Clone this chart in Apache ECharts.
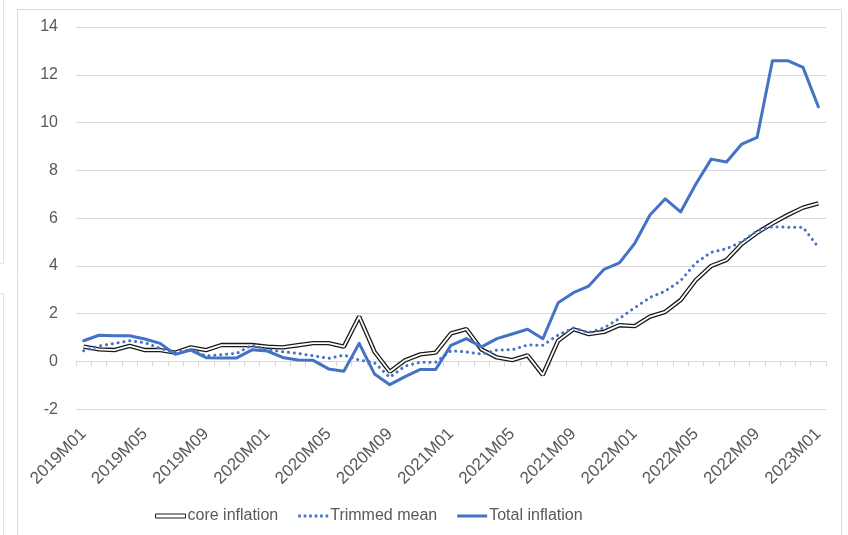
<!DOCTYPE html>
<html>
<head>
<meta charset="utf-8">
<script src="https://cdn.jsdelivr.net/npm/echarts@6/dist/echarts.min.js"></script>
<style>
  html, body { margin: 0; padding: 0; background: #ffffff; }
  #chart { width: 848px; height: 535px; }
</style>
</head>
<body>
<div id="chart"></div>
<script>
// Monthly periods 2019M01 .. 2023M01
const years = [2019, 2020, 2021, 2022, 2023];
const months = [];
years.forEach(function (y) {
  for (let m = 1; m <= 12; m++) {
    if (y === 2023 && m > 1) break;
    months.push(y + 'M' + (m < 10 ? '0' + m : m));
  }
});

// Inflation rates, %
const coreInflation = [
  0.62, 0.51, 0.48, 0.65, 0.48, 0.48, 0.37, 0.59, 0.48, 0.69, 0.69, 0.69,
  0.62, 0.59, 0.68, 0.77, 0.77, 0.62, 1.88, 0.41, -0.43, 0.05, 0.30, 0.37,
  1.18, 1.36, 0.50, 0.17, 0.06, 0.26, -0.56, 0.87, 1.35, 1.15, 1.24, 1.52,
  1.48, 1.88, 2.08, 2.57, 3.41, 4.00, 4.25, 4.92, 5.39, 5.78, 6.13, 6.44,
  6.62
];
const trimmedMean = [
  0.45, 0.65, 0.76, 0.87, 0.79, 0.55, 0.37, 0.50, 0.23, 0.29, 0.34, 0.69,
  0.50, 0.41, 0.34, 0.24, 0.13, 0.27, 0.06, -0.05, -0.66, -0.19, -0.03, -0.03,
  0.45, 0.40, 0.31, 0.48, 0.49, 0.69, 0.68, 1.11, 1.40, 1.21, 1.41, 1.80,
  2.25, 2.68, 2.95, 3.38, 4.13, 4.57, 4.72, 5.01, 5.47, 5.64, 5.62, 5.62,
  4.78
];
const totalInflation = [
  0.87, 1.10, 1.08, 1.08, 0.94, 0.76, 0.30, 0.48, 0.16, 0.15, 0.15, 0.49,
  0.44, 0.17, 0.06, 0.05, -0.31, -0.41, 0.76, -0.52, -0.97, -0.63, -0.33, -0.33,
  0.68, 0.96, 0.61, 0.96, 1.15, 1.35, 0.95, 2.46, 2.88, 3.16, 3.86, 4.13,
  4.94, 6.13, 6.81, 6.26, 7.43, 8.47, 8.35, 9.10, 9.38, 12.59, 12.59, 12.31,
  10.66
];

const BLUE = '#4472C4';
const GRID = '#d9d9d9';
const TEXT = '#595959';
const FONT = '"Liberation Sans", Arial, sans-serif';

const chart = echarts.init(document.getElementById('chart'), null, { renderer: 'canvas' });

chart.setOption({
  animation: false,
  backgroundColor: '#ffffff',
  grid: { left: 76, right: 22, top: 27, bottom: 125.7, containLabel: false },
  legend: {
    left: 150,
    top: 503,
    itemWidth: 30,
    itemHeight: 14,
    itemGap: 20,
    textStyle: { color: TEXT, fontSize: 16, fontFamily: FONT, padding: [0, 0, 0, -3] },
    data: [
      {
        name: 'core inflation',
        icon: 'path://M0,0H30V4H0Z',
        itemStyle: { color: '#ffffff', borderColor: '#1a1a1a', borderWidth: 1 }
      },
      {
        name: 'Trimmed mean',
        icon: 'path://M0,0h2.6v3h-2.6z M5.4,0h2.6v3h-2.6z M10.8,0h2.6v3h-2.6z M16.2,0h2.6v3h-2.6z M21.6,0h2.6v3h-2.6z M27,0h2.6v3h-2.6z',
        itemStyle: { color: BLUE, borderWidth: 0 }
      },
      {
        name: 'Total inflation',
        icon: 'path://M0,0H30V3H0Z',
        itemStyle: { color: BLUE, borderWidth: 0 }
      }
    ]
  },
  xAxis: [
    {
      // labels along the bottom edge
      type: 'category',
      data: months,
      position: 'bottom',
      boundaryGap: true,
      axisLine: { show: false, onZero: false },
      axisTick: { show: false },
      axisLabel: {
        interval: 3,
        rotate: 45,
        margin: 22,
        padding: [20, 0, 0, 0],
        color: TEXT,
        fontSize: 17,
        fontFamily: FONT
      },
      splitLine: { show: false }
    },
    {
      // axis line and ticks crossing at zero
      type: 'category',
      data: months,
      position: 'top',
      boundaryGap: true,
      axisLine: { show: true, onZero: true, lineStyle: { color: GRID, width: 1 } },
      axisTick: { show: true, inside: true, length: 5, interval: 0, lineStyle: { color: GRID } },
      axisLabel: { show: false },
      splitLine: { show: false }
    }
  ],
  yAxis: {
    type: 'value',
    min: -2,
    max: 14,
    interval: 2,
    axisLine: { show: false },
    axisTick: { show: false },
    axisLabel: { color: TEXT, fontSize: 16, fontFamily: FONT, margin: 18 },
    splitLine: { lineStyle: { color: GRID, width: 1 } }
  },
  series: [
    {
      name: 'core inflation',
      type: 'line',
      data: coreInflation,
      symbol: 'none',
      color: '#1a1a1a',
      lineStyle: { color: '#1a1a1a', width: 4.4 },
      z: 2
    },
    {
      name: 'core inflation',
      type: 'line',
      data: coreInflation,
      symbol: 'none',
      color: '#ffffff',
      lineStyle: { color: '#ffffff', width: 1.8 },
      z: 3
    },
    {
      name: 'Trimmed mean',
      type: 'line',
      data: trimmedMean,
      symbol: 'none',
      color: BLUE,
      lineStyle: { color: BLUE, width: 3, type: [0.1, 5.8], cap: 'round' },
      z: 4
    },
    {
      name: 'Total inflation',
      type: 'line',
      data: totalInflation,
      symbol: 'none',
      color: BLUE,
      lineStyle: { color: BLUE, width: 3, join: 'round', cap: 'round' },
      z: 5
    }
  ],
  graphic: [
    {
      type: 'rect',
      silent: true,
      shape: { x: 17.5, y: 9.5, width: 824, height: 540 },
      style: { fill: 'none', stroke: GRID, lineWidth: 1 },
      z: -1
    },
    {
      type: 'polyline',
      silent: true,
      shape: { points: [[3.5, 0], [3.5, 263.5], [0, 263.5]] },
      style: { fill: 'none', stroke: '#e4e4e4', lineWidth: 1 },
      z: -1
    },
    {
      type: 'polyline',
      silent: true,
      shape: { points: [[0, 293.5], [3.5, 293.5], [3.5, 535]] },
      style: { fill: 'none', stroke: '#e4e4e4', lineWidth: 1 },
      z: -1
    }
  ]
});
</script>
</body>
</html>
